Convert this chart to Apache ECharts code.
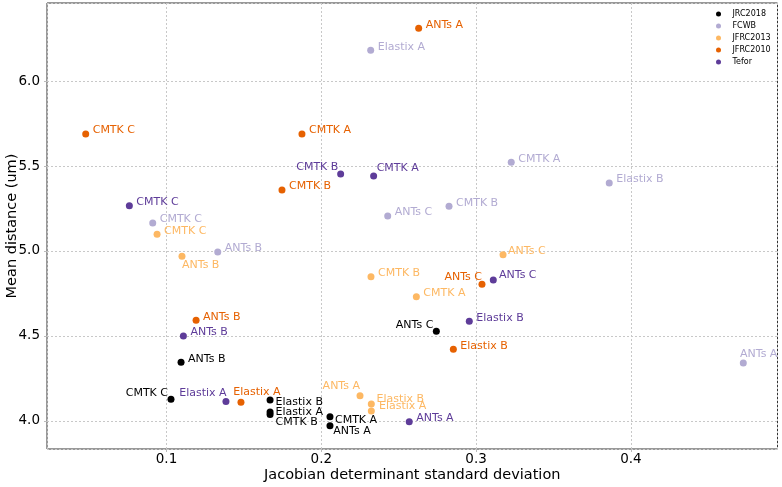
<!DOCTYPE html>
<html>
<head>
<meta charset="utf-8">
<script src="https://cdn.jsdelivr.net/npm/echarts@6/dist/echarts.min.js"></script>
<style>
html,body{margin:0;padding:0;background:#fff;}
#chart{width:782px;height:487px;}
</style>
</head>
<body>
<div id="chart"></div>
<script>
// ---- data ----
const templates = ['JRC2018', 'FCWB', 'JFRC2013', 'JFRC2010', 'Tefor'];
const methods = ['CMTK A', 'CMTK B', 'CMTK C', 'ANTs A', 'ANTs B', 'ANTs C', 'Elastix A', 'Elastix B'];

const jrc2018X  = [0.2056, 0.1669, 0.1029, 0.2056, 0.1094, 0.2743, 0.1669, 0.1669];
const jrc2018Y  = [4.025, 4.038, 4.128, 3.972, 4.345, 4.528, 4.053, 4.124];

const fcwbX     = [0.3227, 0.2825, 0.0911, 0.4726, 0.1331, 0.2429, 0.2319, 0.3860];
const fcwbY     = [5.522, 5.263, 5.165, 4.341, 4.994, 5.206, 6.181, 5.400];

const jfrc2013X = [0.2614, 0.2321, 0.0939, 0.2250, 0.1100, 0.3174, 0.2323, 0.2323];
const jfrc2013Y = [4.731, 4.849, 5.098, 4.149, 4.969, 4.978, 4.059, 4.100];

const jfrc2010X = [0.1875, 0.1746, 0.0478, 0.2629, 0.1191, 0.3038, 0.1481, 0.2853];
const jfrc2010Y = [5.688, 5.359, 5.688, 6.310, 4.592, 4.804, 4.110, 4.422];

const teforX    = [0.2338, 0.2125, 0.0760, 0.2568, 0.1109, 0.3111, 0.1384, 0.2956];
const teforY    = [5.441, 5.453, 5.266, 3.996, 4.500, 4.829, 4.114, 4.586];

const xTickLabels = ['0.1', '0.2', '0.3', '0.4'];
const yTickLabels = ['4.0', '4.5', '5.0', '5.5', '6.0'];

// ---- styling (kept apart from the data) ----
const colors = ['#000000', '#b2abd2', '#fdb863', '#e66101', '#5e3c99'];
const S = ['left', 7, -3.5];
const labelPlacement = {
  JRC2018:  [['left', 5, 3.3], ['left', 5.5, 7.5], ['right', -3, -6], ['left', 3.3, 5.3], S, ['right', -3, -6], ['left', 5.5, 0], ['left', 5.5, 2.3]],
  FCWB:     [S, S, S, ['left', -3.3, -9], S, S, S, S],
  JFRC2013: [S, S, S, ['right', 0, -9], ['left', 0, 9], ['left', 5, -4], ['left', 7.7, -4.3], ['left', 5.3, -5.3]],
  JFRC2010: [S, S, S, S, S, ['right', 0, -7.3], ['left', -7.7, -10.3], S],
  Tefor:    [['left', 3, -7.7], ['right', -2.3, -7.3], S, S, S, ['left', 5.7, -5], ['right', 0.7, -8.3], S]
};

const seriesXY = [
  [jrc2018X, jrc2018Y], [fcwbX, fcwbY], [jfrc2013X, jfrc2013Y], [jfrc2010X, jfrc2010Y], [teforX, teforY]
];

const FONT = 'DejaVu Sans';

const series = templates.map((t, i) => {
  const [xs, ys] = seriesXY[i];
  return {
    name: t,
    type: 'scatter',
    symbol: 'circle',
    symbolSize: 7,
    itemStyle: { color: colors[i], opacity: 1 },
    label: {
      show: true,
      position: 'inside',
      formatter: '{b}',
      verticalAlign: 'middle',
      color: colors[i],
      fontFamily: FONT,
      fontSize: 11,
      textBorderWidth: 0
    },
    emphasis: { disabled: true },
    data: methods.map((m, j) => {
      const p = labelPlacement[t][j];
      return {
        name: m,
        value: [xs[j], ys[j]],
        label: { align: p[0], offset: [p[1], p[2]] }
      };
    }),
    z: 2
  };
});

const chart = echarts.init(document.getElementById('chart'), null, { renderer: 'canvas' });
chart.setOption({
  animation: false,
  backgroundColor: '#ffffff',
  textStyle: { fontFamily: FONT },
  grid: {
    left: 47, right: 4.5, top: 3, bottom: 38,
    containLabel: false,
    outerBoundsMode: 'none',
    show: true,
    borderColor: '#333',
    borderWidth: 1,
    backgroundColor: 'transparent'
  },
  legend: {
    orient: 'vertical',
    left: 716,
    top: 8,
    padding: 0,
    itemGap: 0,
    itemWidth: 18,
    itemHeight: 5,
    icon: 'circle',
    data: templates,
    textStyle: { fontFamily: FONT, fontSize: 8, color: '#000', lineHeight: 12 },
    selectedMode: false
  },
  xAxis: {
    type: 'value',
    min: 0.0228,
    max: 0.4947,
    minInterval: 0.1,
    maxInterval: 0.1,
    name: 'Jacobian determinant standard deviation',
    nameLocation: 'middle',
    nameGap: 19,
    nameMoveOverlap: false,
    nameTextStyle: { fontFamily: FONT, fontSize: 14.5, color: '#000' },
    axisLine: { show: false },
    axisTick: { show: true, length: 3, lineStyle: { color: '#bbb' } },
    axisLabel: {
      showMinLabel: false, showMaxLabel: false,
      margin: 3,
      fontFamily: FONT, fontSize: 13.5, color: '#000',
      formatter: v => {
        const s = v.toFixed(1);
        return xTickLabels.indexOf(s) >= 0 && Math.abs(v * 10 - Math.round(v * 10)) < 1e-6 ? s : '';
      }
    },
    splitLine: { show: true, lineStyle: { color: '#c8c8c8', type: [2, 2], width: 1 } }
  },
  yAxis: {
    type: 'value',
    min: 3.835,
    max: 6.459,
    minInterval: 0.5,
    maxInterval: 0.5,
    name: 'Mean distance (um)',
    nameLocation: 'middle',
    nameGap: 27,
    nameMoveOverlap: false,
    nameTextStyle: { fontFamily: FONT, fontSize: 14.5, color: '#000' },
    axisLine: { show: false },
    axisTick: { show: true, length: 3, lineStyle: { color: '#bbb' } },
    axisLabel: {
      showMinLabel: false, showMaxLabel: false,
      margin: 7,
      fontFamily: FONT, fontSize: 13.5, color: '#000',
      formatter: v => {
        const s = v.toFixed(1);
        return yTickLabels.indexOf(s) >= 0 && Math.abs(v * 2 - Math.round(v * 2)) < 1e-6 ? s : '';
      }
    },
    splitLine: { show: true, lineStyle: { color: '#c8c8c8', type: [2, 2], width: 1 } }
  },
  series: series
});
</script>
</body>
</html>
